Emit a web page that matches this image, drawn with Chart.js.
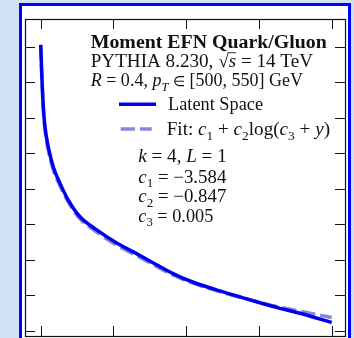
<!DOCTYPE html>
<html><head><meta charset="utf-8">
<script src="https://cdn.jsdelivr.net/npm/chart.js@4/dist/chart.umd.min.js"></script>
<style>
html,body{margin:0;padding:0;background:#cfe2f3;width:354px;height:338px;overflow:hidden}
#panel{position:absolute;left:19px;top:3px;width:326px;height:400px;border:3px solid #0000ff;background:#fff}
#wrap{position:absolute;left:0;top:0;width:354px;height:338px}
</style></head><body>
<div id="panel"></div>
<div id="wrap"><canvas id="c" width="354" height="338"></canvas></div>
<script>
// ---- data (arbitrary axis units; tick labels are not shown in the reference) ----
const xTicks = [0, 1, 2, 3, 4];
const yTicks = [0, 1, 2, 3, 4, 5, 6, 7, 8];
const xMin = -0.216, xMax = 4.183;
const yMin = -0.149, yMax = 8.78;

const latentX = [0.000, 0.014, 0.036, 0.059, 0.104, 0.173, 0.265, 0.379, 0.540, 0.770, 1.045, 1.365, 1.599, 1.819, 2.052, 2.464, 2.877, 3.290, 3.564, 4.000];
const latentY = [8.05, 7.26, 6.30, 5.74, 5.18, 4.61, 4.15, 3.68, 3.21, 2.84, 2.47, 2.12, 1.85, 1.61, 1.40, 1.12, 0.87, 0.63, 0.49, 0.23];

const fitX = [0.000, 0.014, 0.036, 0.059, 0.104, 0.173, 0.265, 0.379, 0.540, 0.770, 1.045, 1.365, 1.599, 1.819, 2.052, 2.464, 2.877, 3.290, 3.564, 4.000];
const fitY = [8.05, 7.20, 6.22, 5.65, 5.09, 4.53, 4.08, 3.62, 3.15, 2.78, 2.41, 2.06, 1.80, 1.57, 1.37, 1.10, 0.87, 0.66, 0.55, 0.37];

const seriesNames = ['Latent Space', 'Fit'];
const solidColor = '#0000ee';
const dashColor = 'rgba(105,105,205,0.8)';

const FONT = '"Liberation Serif", "Times New Roman", serif';

function drawRich(ctx, segs, x0, base, w, size) {
  const fontFor = s => (s.f === 'b' ? 'bold ' : '') + (s.f === 'i' ? 'italic ' : '') + (size * (s.sub ? 0.7 : (s.sc || 1))) + 'px ' + FONT;
  let total = 0;
  for (const s of segs) { ctx.font = fontFor(s); s.w = ctx.measureText(s.t).width; total += s.w; }
  const k = w / total;
  ctx.save();
  ctx.translate(x0, base);
  ctx.scale(k, 1);
  ctx.fillStyle = '#111';
  ctx.textBaseline = 'alphabetic';
  ctx.textAlign = 'left';
  let x = 0;
  for (const s of segs) {
    ctx.font = fontFor(s);
    ctx.fillText(s.t, x, s.sub ? size * 0.25 : 0);
    if (s.over) ctx.fillRect(x - 1, -size * 0.8, s.w + 1, 0.9);
    x += s.w;
  }
  ctx.restore();
}

const decor = {
  id: 'decor',
  afterDraw(chart) {
    const ctx = chart.ctx, a = chart.chartArea;
    const xs = chart.scales.x, ys = chart.scales.y;
    ctx.save();
    ctx.strokeStyle = '#111';
    ctx.lineWidth = 1.2;
    ctx.strokeRect(a.left + 0.5, a.top + 0.5, a.right - a.left, a.bottom - a.top);
    ctx.lineWidth = 1;
    ctx.beginPath();
    for (const v of xTicks) {
      const p = Math.round(xs.getPixelForValue(v)) + 0.5;
      ctx.moveTo(p, a.top); ctx.lineTo(p, a.top + 10);
      ctx.moveTo(p, a.bottom); ctx.lineTo(p, a.bottom - 10);
    }
    for (const v of yTicks) {
      const p = Math.round(ys.getPixelForValue(v)) + 0.5;
      ctx.moveTo(a.left, p); ctx.lineTo(a.left + 10, p);
      ctx.moveTo(a.right, p); ctx.lineTo(a.right - 10, p);
    }
    ctx.stroke();

    const S = 18;
    drawRich(ctx, [{t: 'Moment EFN Quark/Gluon', f: 'b'}], 90.7, 47.7, 236, S);
    drawRich(ctx, [{t: 'PYTHIA 8.230, '}, {t: '√'}, {t: 's', f: 'i', over: true}, {t: ' = 14 TeV'}], 90.7, 66.7, 222.3, S);
    drawRich(ctx, [{t: 'R', f: 'i'}, {t: ' = 0.4, '}, {t: 'p', f: 'i'}, {t: 'T', f: 'i', sub: 1}, {t: ' '}, {t: '∈', sc: 0.8}, {t: ' [500, 550] GeV'}], 90.7, 86, 212.3, S);

    // legend
    ctx.lineCap = 'butt';
    ctx.lineWidth = 3.5;
    ctx.strokeStyle = solidColor;
    ctx.beginPath(); ctx.moveTo(119, 104.3); ctx.lineTo(156, 104.3); ctx.stroke();
    drawRich(ctx, [{t: seriesNames[0]}], 168, 110, 95, S);
    ctx.strokeStyle = dashColor;
    ctx.setLineDash([14.3, 5]);
    ctx.beginPath(); ctx.moveTo(120.7, 129); ctx.lineTo(151.7, 129); ctx.stroke();
    ctx.setLineDash([]);
    drawRich(ctx, [{t: 'Fit: '}, {t: 'c', f: 'i'}, {t: '1', sub: 1}, {t: ' + '}, {t: 'c', f: 'i'}, {t: '2', sub: 1}, {t: 'log('}, {t: 'c', f: 'i'}, {t: '3', sub: 1}, {t: ' + '}, {t: 'y', f: 'i'}, {t: ')'}], 166.7, 135, 163.3, S);

    drawRich(ctx, [{t: 'k', f: 'i'}, {t: ' = 4, '}, {t: 'L', f: 'i'}, {t: ' = 1'}], 138.3, 162.3, 88.4, S);
    drawRich(ctx, [{t: 'c', f: 'i'}, {t: '1', sub: 1}, {t: ' = −3.584'}], 138.3, 182.7, 88, S);
    drawRich(ctx, [{t: 'c', f: 'i'}, {t: '2', sub: 1}, {t: ' = −0.847'}], 138.3, 202.3, 88, S);
    drawRich(ctx, [{t: 'c', f: 'i'}, {t: '3', sub: 1}, {t: ' = 0.005'}], 138.3, 221.7, 75, S);
    ctx.restore();
  }
};

new Chart(document.getElementById('c'), {
  type: 'scatter',
  data: {
    datasets: [
      {
        label: seriesNames[0],
        data: latentX.map((x, i) => ({x, y: latentY[i]})),
        showLine: true, borderColor: solidColor, borderWidth: 3.5,
        pointRadius: 0, cubicInterpolationMode: 'monotone', borderCapStyle: 'butt'
      },
      {
        label: seriesNames[1],
        data: fitX.map((x, i) => ({x, y: fitY[i]})),
        showLine: true, borderColor: dashColor, borderWidth: 3.5, borderDash: [14.3, 5],
        pointRadius: 0, cubicInterpolationMode: 'monotone'
      }
    ]
  },
  options: {
    responsive: false, animation: false, devicePixelRatio: 1,
    layout: {padding: {left: 25, top: 19, right: 9, bottom: 2}},
    plugins: {legend: {display: false}, tooltip: {enabled: false}},
    scales: {
      x: {type: 'linear', min: xMin, max: xMax, display: false},
      y: {type: 'linear', min: yMin, max: yMax, display: false}
    }
  },
  plugins: [decor]
});
</script>
</body></html>
